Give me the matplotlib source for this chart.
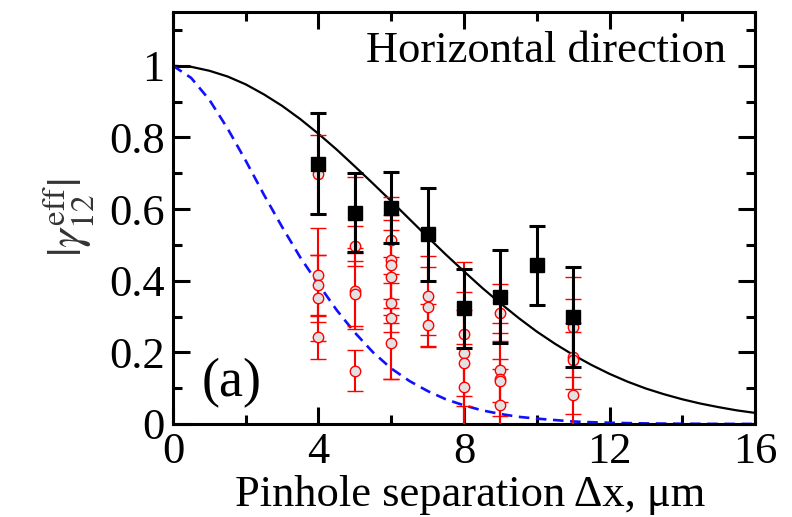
import matplotlib
matplotlib.use("Agg")
import matplotlib.pyplot as plt

# theory curves, every 0.5 um
theory_x = [0, 0.5, 1, 1.5, 2, 2.5, 3, 3.5, 4, 4.5, 5, 5.5, 6, 6.5, 7, 7.5, 8,
            8.5, 9, 9.5, 10, 10.5, 11, 11.5, 12, 12.5, 13, 13.5, 14, 14.5, 15, 15.5, 16]
fit_black = [1.000, 0.997, 0.986, 0.970, 0.948, 0.920, 0.888, 0.851, 0.810, 0.766,
             0.719, 0.671, 0.622, 0.572, 0.522, 0.473, 0.426, 0.380, 0.337, 0.296,
             0.258, 0.224, 0.193, 0.165, 0.140, 0.118, 0.099, 0.083, 0.069, 0.057,
             0.047, 0.038, 0.031]
fit_blue = [1.000, 0.966, 0.905, 0.825, 0.735, 0.640, 0.550, 0.465, 0.390, 0.318,
            0.255, 0.200, 0.155, 0.120, 0.092, 0.069, 0.052, 0.038, 0.028, 0.020,
            0.015, 0.011, 0.007, 0.005, 0.0035, 0.0025, 0.0016, 0.0011, 0.0007,
            0.0005, 0.0003, 0.0002, 0.0001]

# averaged measurements (black squares)
avg_x = [4, 5, 6, 7, 8, 9, 10, 11]
avg_y = [0.727, 0.590, 0.604, 0.529, 0.323, 0.355, 0.443, 0.298]
avg_err = [0.140, 0.110, 0.100, 0.130, 0.110, 0.130, 0.110, 0.140]

# individual measurements (red circles)
ind_x = [4, 4, 4, 4, 4,
         5, 5, 5, 5, 5,
         6, 6, 6, 6, 6, 6, 6,
         7, 7, 7,
         8, 8, 8, 8,
         9, 9, 9, 9, 9,
         11, 11, 11, 11]
ind_y = [0.697, 0.416, 0.388, 0.352, 0.242,
         0.590, 0.497, 0.371, 0.364, 0.149,
         0.513, 0.459, 0.443, 0.411, 0.338, 0.295, 0.225,
         0.358, 0.327, 0.276,
         0.251, 0.199, 0.169, 0.102,
         0.311, 0.152, 0.125, 0.121, 0.053,
         0.271, 0.188, 0.178, 0.081]
ind_err = [0.110, 0.130, 0.085, 0.120, 0.060,
           0.100, 0.055, 0.105, 0.090, 0.058,
           0.120, 0.110, 0.140, 0.130, 0.080, 0.170, 0.100,
           0.110, 0.110, 0.060,
           0.200, 0.120, 0.200, 0.120,
           0.080, 0.130, 0.130, 0.060, 0.100,
           0.140, 0.160, 0.080, 0.200]

plt.rcParams['font.family'] = ['Liberation Serif', 'DejaVu Serif']
plt.rcParams['mathtext.fontset'] = 'stix'

fig = plt.figure(figsize=(7.92, 5.17), dpi=100)
ax = fig.add_axes([0.2184, 0.1799, 0.7349, 0.7969])

ax.plot(theory_x, fit_black, color='black', lw=1.6, zorder=2)
ax.plot(theory_x, fit_blue, color='#1010ff', lw=1.9, linestyle=(0, (4, 2.5)), zorder=2)

ax.errorbar(ind_x, ind_y, yerr=ind_err, fmt='o', color='red', ecolor='red',
            mfc='#e2e2e2', mec='red', mew=1.0, ms=7.5, elinewidth=1.5,
            capsize=5.5, capthick=1.5, zorder=3)
ax.errorbar(avg_x, avg_y, yerr=avg_err, fmt='s', color='black', ecolor='black',
            ms=10, elinewidth=2.2, capsize=5.5, capthick=2.2, zorder=4)

ax.set_xlim(0, 16)
ax.set_ylim(0, 1.15)
ax.set_xticks([0, 4, 8, 12, 16])
ax.set_xticks([2, 6, 10, 14], minor=True)
ax.set_yticks([0, 0.2, 0.4, 0.6, 0.8, 1.0])
ax.set_yticklabels(['0', '0.2', '0.4', '0.6', '0.8', '1'])
ax.set_yticks([0.1, 0.3, 0.5, 0.7, 0.9, 1.1], minor=True)
ax.tick_params(which='both', direction='in', top=True, right=True, width=2.2,
               labelsize=32)
ax.tick_params(which='major', length=12)
ax.tick_params(which='minor', length=6.5)
ax.tick_params(axis='x', pad=6)
ax.tick_params(axis='y', pad=6)
for s in ax.spines.values():
    s.set_linewidth(2.2)

ax.set_xlabel('Pinhole separation \u0394x, \u03bcm', fontsize=32)
ax.xaxis.set_label_coords(0.51, -0.125)
ax.set_ylabel(r'$|\gamma_{12}^{\rm eff}|$', fontsize=34, color='#333333')
ax.yaxis.set_label_coords(-0.13, 0.5)

ax.text(15.2, 1.04, 'Horizontal direction', fontsize=32, ha='right', va='center')
ax.text(0.8, 0.115, '(a)', fontsize=39, ha='left', va='center')

fig.savefig('out.png', dpi=100)
